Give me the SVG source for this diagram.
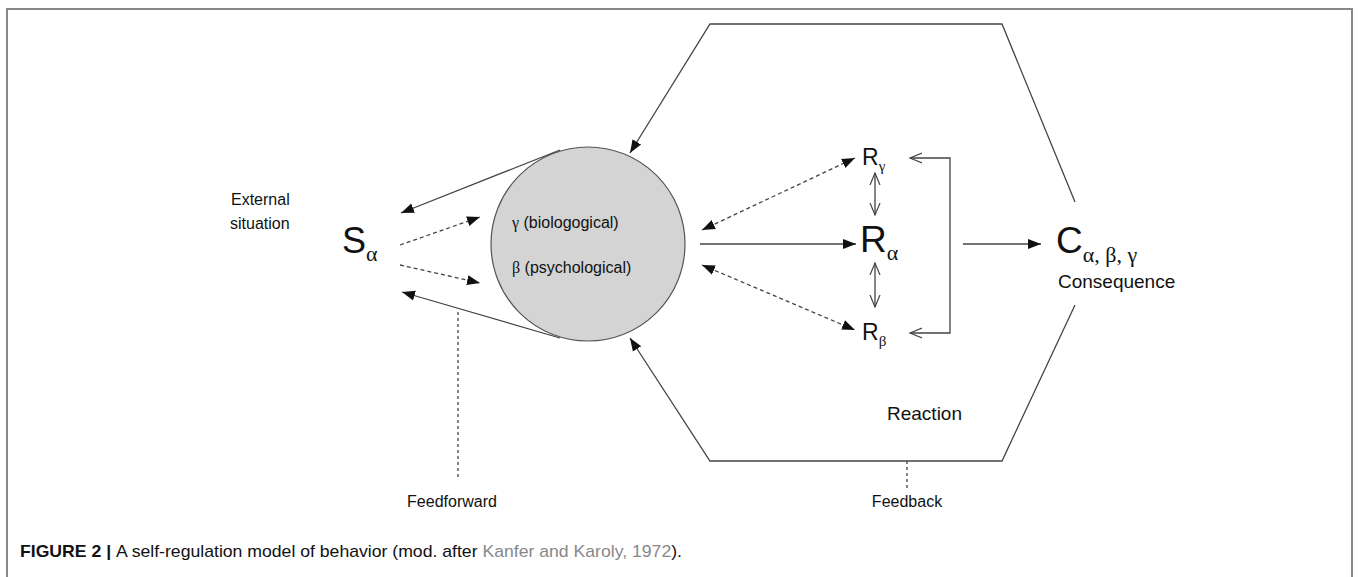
<svg xmlns="http://www.w3.org/2000/svg" width="1358" height="577" viewBox="0 0 1358 577">
<style>
text{font-family:"Liberation Sans",Arial,sans-serif;fill:#111}
.ln{stroke:#444;stroke-width:1.3;fill:none}
.ds{stroke:#444;stroke-width:1.3;fill:none;stroke-dasharray:4 3}
.dt{stroke:#444;stroke-width:1.3;fill:none;stroke-dasharray:3 3}
.fa{marker-end:url(#fa)}
.fb{marker-start:url(#fa);marker-end:url(#fa)}
.ob{marker-start:url(#oa);marker-end:url(#oa)}
.frame{stroke:#888;stroke-width:2;fill:none}
.ser{font-family:"Liberation Serif","Times New Roman",serif}
</style>
<defs>
<marker id="fa" markerUnits="userSpaceOnUse" markerWidth="14" markerHeight="12" refX="13" refY="5" orient="auto-start-reverse" viewBox="0 0 14 10"><path d="M0,0 L13,5 L0,10 z" fill="#111"/></marker>
<marker id="oa" markerUnits="userSpaceOnUse" markerWidth="14" markerHeight="12" refX="12" refY="5" orient="auto-start-reverse" viewBox="0 0 14 10"><path d="M0,0 L12,5 L0,10" fill="none" stroke="#444" stroke-width="1.2"/></marker>
</defs>
<rect width="1358" height="577" fill="#fff"/>
<path class="frame" d="M7,577 L7,9 L1352,9 L1352,577"/>
<g id="node-circle">
<circle cx="588" cy="244" r="97" fill="#d4d4d4" stroke="#555" stroke-width="1.2"/>
<text x="512" y="228" font-size="16"><tspan class="ser">γ</tspan> (biologogical)</text>
<text x="512" y="273" font-size="16"><tspan class="ser">β</tspan> (psychological)</text>
</g>
<g id="node-external">
<text x="231" y="205" font-size="16">External</text>
<text x="230" y="229" font-size="16">situation</text>
</g>
<g id="node-S">
<text x="342" y="253" font-size="36">S<tspan class="ser" font-size="22" dy="8">α</tspan></text>
</g>
<g id="node-Rg">
<text x="862" y="165" font-size="23">R<tspan class="ser" font-size="15" dy="6">γ</tspan></text>
</g>
<g id="node-Ra">
<text x="860" y="252" font-size="37">R<tspan class="ser" font-size="22" dy="8">α</tspan></text>
</g>
<g id="node-Rb">
<text x="862" y="340" font-size="23">R<tspan class="ser" font-size="15" dy="6">β</tspan></text>
</g>
<g id="node-C">
<text x="1056" y="253" font-size="37">C<tspan class="ser" font-size="22" dy="9">α, β, γ</tspan></text>
<text x="1058" y="288" font-size="19">Consequence</text>
</g>
<g id="node-reaction"><text x="887" y="420" font-size="19">Reaction</text></g>
<g id="node-feedforward"><text x="452" y="507" font-size="16" text-anchor="middle">Feedforward</text></g>
<g id="node-feedback"><text x="907" y="507" font-size="16" text-anchor="middle">Feedback</text></g>
<g id="connectors">
<path class="ln fa" d="M1075,202 L1002,24 L710,24 L630,153"/>
<path class="ln fa" d="M1075,305 L1002,461 L710,461 L630,338"/>
<path class="ln fa" d="M560,150 L401,213"/>
<path class="ln fa" d="M560,338 L402,292"/>
<path class="ds fa" d="M400,245 L480,217"/>
<path class="ds fa" d="M400,265 L480,283"/>
<path class="ds fb" d="M702,230 L855,158"/>
<path class="ds fb" d="M702,265 L855,330"/>
<path class="ln fa" d="M700,244 L856,244"/>
<path class="ln ob" d="M875,173 L875,215"/>
<path class="ln ob" d="M875,263 L875,307"/>
<path class="ln ob" d="M910,158 L950,158 L950,333 L910,333"/>
<path class="ln fa" d="M963,244 L1041,244"/>
<path class="dt" d="M458,312 L458,480"/>
<path class="dt" d="M907,461 L907,488"/>
</g>
<g id="caption">
<text x="20" y="557" font-size="17" fill="#222" textLength="662" lengthAdjust="spacingAndGlyphs"><tspan font-weight="bold">FIGURE 2</tspan><tspan font-weight="bold"> | </tspan>A self-regulation model of behavior (mod. after <tspan fill="#888">Kanfer and Karoly, 1972</tspan>).</text>
</g>
</svg>
